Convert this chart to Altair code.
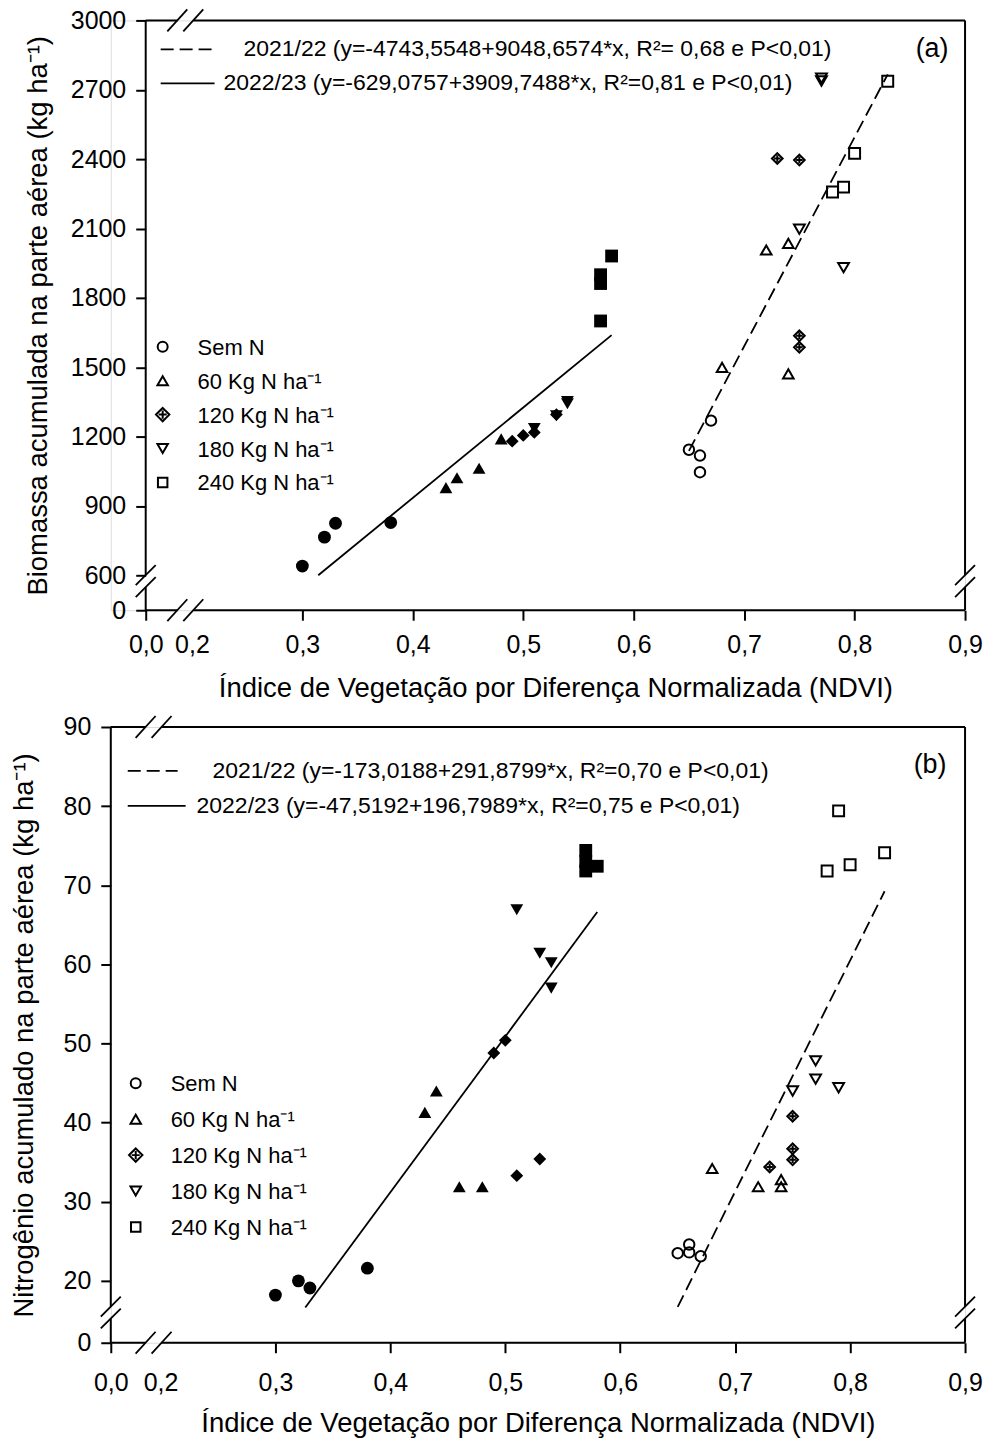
import altair as alt
import pandas as pd

FONT = "Liberation Sans"

# ---------------- data ----------------
TREATMENTS = ["Sem N", "60 Kg N ha⁻¹", "120 Kg N ha⁻¹", "180 Kg N ha⁻¹", "240 Kg N ha⁻¹"]
TRT_COL = ["Sem N"] * 4 + ["60 Kg N ha⁻¹"] * 4 + ["120 Kg N ha⁻¹"] * 4 + ["180 Kg N ha⁻¹"] * 4 + ["240 Kg N ha⁻¹"] * 4

X_TICKS = [0.0, 0.2, 0.3, 0.4, 0.5, 0.6, 0.7, 0.8, 0.9]
A_Y_TICKS = [0, 600, 900, 1200, 1500, 1800, 2100, 2400, 2700, 3000]
B_Y_TICKS = [0, 20, 30, 40, 50, 60, 70, 80, 90]

# panel (a) biomass
A_NDVI_2122 = [0.65, 0.66, 0.66, 0.67, 0.68, 0.72, 0.74, 0.74, 0.73, 0.75, 0.75, 0.75,
               0.75, 0.77, 0.77, 0.79, 0.78, 0.79, 0.80, 0.83]
A_BIO_2122 = [1143, 1118, 1046, 1269, 1499, 2007, 2036, 1471, 2403, 2396, 1636, 1586,
              2097, 2750, 2738, 1931, 2258, 2279, 2425, 2737]
A_NDVI_2223 = [0.30, 0.32, 0.33, 0.38, 0.43, 0.44, 0.46, 0.48, 0.49, 0.50, 0.51, 0.53,
               0.51, 0.53, 0.54, 0.54, 0.57, 0.57, 0.57, 0.58]
A_BIO_2223 = [640, 765, 825, 828, 979, 1022, 1063, 1190, 1180, 1205, 1218, 1295,
              1235, 1290, 1342, 1352, 1700, 1862, 1900, 1981]

# panel (b) nitrogen
B_NDVI_2122 = [0.65, 0.66, 0.66, 0.67, 0.68, 0.72, 0.74, 0.74, 0.73, 0.75, 0.75, 0.75,
               0.75, 0.77, 0.77, 0.79, 0.78, 0.79, 0.80, 0.83]
B_N_2122 = [23.5, 24.6, 23.6, 23.1, 34.2, 31.9, 32.8, 31.9, 34.4, 40.8, 36.7, 35.3,
            44.0, 47.8, 45.5, 44.4, 71.8, 79.4, 72.6, 74.1]
B_NDVI_2223 = [0.30, 0.32, 0.33, 0.38, 0.43, 0.44, 0.46, 0.48, 0.49, 0.50, 0.51, 0.53,
               0.51, 0.53, 0.54, 0.54, 0.57, 0.57, 0.57, 0.58]
B_N_2223 = [18.2, 20.0, 19.1, 21.6, 41.3, 44.0, 31.9, 31.9, 48.8, 50.4, 33.3, 35.4,
            66.9, 61.4, 60.2, 57.0, 74.4, 73.0, 71.8, 72.4]

# regression equations (intercept, slope, x from, x to)
A_FIT_2122 = (-4743.5548, 9048.6574, 0.65, 0.83)
A_FIT_2223 = (-629.0757, 3909.7488, 0.3144, 0.58)
B_FIT_2122 = (-173.0188, 291.8799, 0.65, 0.83)
B_FIT_2223 = (-47.5192, 196.7989, 0.326, 0.58)

A_LEG_LINES = ["2021/22 (y=-4743,5548+9048,6574*x, R²= 0,68 e P<0,01)",
               "2022/23 (y=-629,0757+3909,7488*x, R²=0,81 e P<0,01)"]
B_LEG_LINES = ["2021/22 (y=-173,0188+291,8799*x, R²=0,70 e P<0,01)",
               "2022/23 (y=-47,5192+196,7989*x, R²=0,75 e P<0,01)"]

X_TITLE = "Índice de Vegetação por Diferença Normalizada (NDVI)"
A_Y_TITLE = "Biomassa acumulada na parte aérea (kg ha⁻¹)"
B_Y_TITLE = "Nitrogênio acumulado na parte aérea (kg ha⁻¹)"

OPEN_SHAPES = ["circle", "triangle-up",
               "M0,-1L1,0L0,1L-1,0Z M-0.6,0L0.6,0 M0,-0.6L0,0.6",
               "triangle-down", "square"]
FILLED_SHAPES = ["circle", "triangle-up", "diamond", "triangle-down", "square"]
OPEN_SIZES = [110, 120, 190, 120, 100]

ONE = pd.DataFrame({"k": [0]})


def panel(cfg):
    W, H = cfg["W"], cfg["H"]
    xb, yb, ymax = cfg["xb"], cfg["yb"], cfg["ymax"]
    xbpx = W - (0.9 - xb) * cfg["xper"]
    ybpx = cfg["yref_px"] + (cfg["yref"] - yb) * cfg["yper"]
    xs = alt.Scale(domain=[0, xb, 0.9], range=[cfg["x0"], xbpx, W], nice=False)
    ys = alt.Scale(domain=[0, yb, ymax], range=[H, ybpx, 0], nice=False)

    xaxis = alt.Axis(values=X_TICKS, title=X_TITLE, grid=False, domain=False,
                     labelExpr="replace(format(datum.value, '.1f'), '.', ',')",
                     tickSize=10, tickWidth=2, tickColor="black",
                     tickOpacity={"condition": {"test": "datum.value == 0.2", "value": 0}, "value": 1},
                     labelFontSize=25, labelFont=FONT, labelColor="black",
                     labelPadding=cfg["xlabpad"], labelFlush=False, labelOverlap=False,
                     titleFontSize=27.5, titleFont=FONT, titleColor="black",
                     titleFontWeight="normal", titlePadding=cfg["xtitlepad"])
    yaxis = alt.Axis(values=cfg["yticks"], title=cfg["ytitle"], grid=False, domain=False,
                     format="d", tickSize=10, tickWidth=2, tickColor="black",
                     labelFontSize=25, labelFont=FONT, labelColor="black",
                     labelPadding=10, labelFlush=False, labelOverlap=False,
                     offset=-cfg["x0"],
                     titleFontSize=27.5, titleFont=FONT, titleColor="black",
                     titleFontWeight="normal", titlePadding=cfg["ytitlepad"])

    def X(field=None, datum=None):
        if datum is not None:
            return alt.X(datum=datum, type="quantitative", scale=xs, axis=xaxis)
        return alt.X(field, type="quantitative", scale=xs, axis=xaxis)

    def Y(field=None, datum=None):
        if datum is not None:
            return alt.Y(datum=datum, type="quantitative", scale=ys, axis=yaxis)
        return alt.Y(field, type="quantitative", scale=ys, axis=yaxis)

    layers = []
    # regression lines
    for fit, dash in ((cfg["fit21"], [13, 6]), (cfg["fit22"], None)):
        a, b, x1, x2 = fit
        d = pd.DataFrame({"x": [x1, x2], "y": [a + b * x1, a + b * x2]})
        kw = dict(color="black", strokeWidth=1.8)
        if dash:
            kw["strokeDash"] = dash
        layers.append(alt.Chart(d).mark_line(**kw).encode(x=X("x"), y=Y("y")))

    # points
    d21 = pd.DataFrame({"x": cfg["ndvi21"], "y": cfg["val21"], "trt": TRT_COL})
    d22 = pd.DataFrame({"x": cfg["ndvi22"], "y": cfg["val22"], "trt": TRT_COL})
    layers.append(alt.Chart(d21).mark_point(filled=False, color="black", strokeWidth=2,
                                            size=120, opacity=1).encode(
        x=X("x"), y=Y("y"),
        shape=alt.Shape("trt:N", scale=alt.Scale(domain=TREATMENTS, range=OPEN_SHAPES), legend=None),
        size=alt.Size("trt:N", scale=alt.Scale(domain=TREATMENTS, range=OPEN_SIZES), legend=None)))
    layers.append(alt.Chart(d22).mark_point(filled=True, color="black", size=165,
                                            opacity=1).encode(
        x=X("x"), y=Y("y"),
        shape=alt.Shape("trt:N", scale=alt.Scale(domain=TREATMENTS, range=FILLED_SHAPES), legend=None)))

    # frame with axis breaks
    g = 8   # half gap at the x break
    gy = 6  # half gap at the y break
    hrows = pd.DataFrame({"y": [0, ymax]})
    vrows = pd.DataFrame({"x": [0, 0.9]})
    rule = dict(color="black", strokeWidth=2)
    layers.append(alt.Chart(hrows).mark_rule(x2Offset=-g, **rule).encode(
        x=X(datum=0), x2=alt.X2(datum=xb), y=Y("y")))
    layers.append(alt.Chart(hrows).mark_rule(xOffset=g, **rule).encode(
        x=X(datum=xb), x2=alt.X2(datum=0.9), y=Y("y")))
    layers.append(alt.Chart(vrows).mark_rule(y2Offset=gy, **rule).encode(
        y=Y(datum=0), y2=alt.Y2(datum=yb), x=X("x")))
    layers.append(alt.Chart(vrows).mark_rule(yOffset=-gy, **rule).encode(
        y=Y(datum=yb), y2=alt.Y2(datum=ymax), x=X("x")))
    slash = dict(color="black", strokeWidth=1.8)
    for s in (-g, g):
        layers.append(alt.Chart(hrows).mark_rule(xOffset=s - 10, x2Offset=s + 10,
                                                 yOffset=11, y2Offset=-11, **slash).encode(
            x=X(datum=xb), x2=alt.X2(datum=xb), y=Y("y"), y2=alt.Y2("y")))
    for s in (-gy, gy):
        layers.append(alt.Chart(vrows).mark_rule(xOffset=-10, x2Offset=10,
                                                 yOffset=s + 10, y2Offset=s - 10, **slash).encode(
            y=Y(datum=yb), y2=alt.Y2(datum=yb), x=X("x"), x2=alt.X2("x")))

    # legend: regression lines
    for i, (txt, dash) in enumerate(zip(cfg["leglines"], ([13, 6], None))):
        ly = cfg["leg_line_y"][i]
        kw = dict(color="black", strokeWidth=1.8)
        if dash:
            kw["strokeDash"] = dash
        x1, x2 = cfg["leg_line_x"][i]
        layers.append(alt.Chart(ONE).mark_rule(**kw).encode(
            x=alt.value(x1), x2=alt.value(x2), y=alt.value(ly)))
        layers.append(alt.Chart(ONE).mark_text(text=txt, align="left", baseline="middle",
                                               fontSize=23, font=FONT, color="black").encode(
            x=alt.value(cfg["leg_text_x"][i]), y=alt.value(ly)))
    # panel letter
    layers.append(alt.Chart(ONE).mark_text(text=cfg["letter"], align="center", baseline="middle",
                                           fontSize=27, font=FONT, color="black").encode(
        x=alt.value(cfg["letter_xy"][0]), y=alt.value(cfg["letter_xy"][1])))
    # legend: treatments
    sx, tx, y0, dy = cfg["sym_leg"]
    for i, name in enumerate(TREATMENTS):
        layers.append(alt.Chart(ONE).mark_point(shape=OPEN_SHAPES[i], filled=False, color="black",
                                                strokeWidth=2, size=OPEN_SIZES[i] - 10,
                                                opacity=1).encode(
            x=alt.value(sx), y=alt.value(y0 + i * dy - 1)))
        layers.append(alt.Chart(ONE).mark_text(text=name, align="left", baseline="middle",
                                               fontSize=22, font=FONT, color="black").encode(
            x=alt.value(tx), y=alt.value(y0 + i * dy)))

    return alt.layer(*layers).resolve_scale(shape="independent", size="independent").properties(
        width=W, height=H)


# pixel geometry of each panel relative to its plot area (view starts at x=110)
A_CFG = dict(W=856, H=591, x0=35, xper=1106.7, xb=0.194,
             yref=600, yref_px=556, yper=556 / 2400, yb=575, ymax=3000,
             yticks=A_Y_TICKS, ytitle=A_Y_TITLE, xlabpad=12, xtitlepad=17, ytitlepad=18,
             fit21=A_FIT_2122, fit22=A_FIT_2223,
             ndvi21=A_NDVI_2122, val21=A_BIO_2122, ndvi22=A_NDVI_2223, val22=A_BIO_2223,
             leglines=A_LEG_LINES, leg_line_y=[29, 63], leg_line_x=[(50, 107), (50, 104)],
             leg_text_x=[133, 113], letter="(a)", letter_xy=[823, 29],
             sym_leg=(52, 87, 328, 34))
B_CFG = dict(W=856, H=617, x0=0, xper=1151.7, xb=0.194,
             yref=20, yref_px=555, yper=555 / 70, yb=16, ymax=90,
             yticks=B_Y_TICKS, ytitle=B_Y_TITLE, xlabpad=18, xtitlepad=14, ytitlepad=25,
             fit21=B_FIT_2122, fit22=B_FIT_2223,
             ndvi21=B_NDVI_2122, val21=B_N_2122, ndvi22=B_NDVI_2223, val22=B_N_2223,
             leglines=B_LEG_LINES, leg_line_y=[44, 79], leg_line_x=[(17, 67), (17, 75)],
             leg_text_x=[102, 86], letter="(b)", letter_xy=[821, 38],
             sym_leg=(25, 60, 358, 36))

top = panel(A_CFG)
bottom = panel(B_CFG)

chart = alt.vconcat(top, bottom, spacing=117, bounds="flush").properties(
    padding={"left": 9, "top": 6, "right": 5, "bottom": 5}
).configure_view(stroke=None).configure(font=FONT)

chart.save("out.html", embed_options={"renderer": "svg", "actions": False})
